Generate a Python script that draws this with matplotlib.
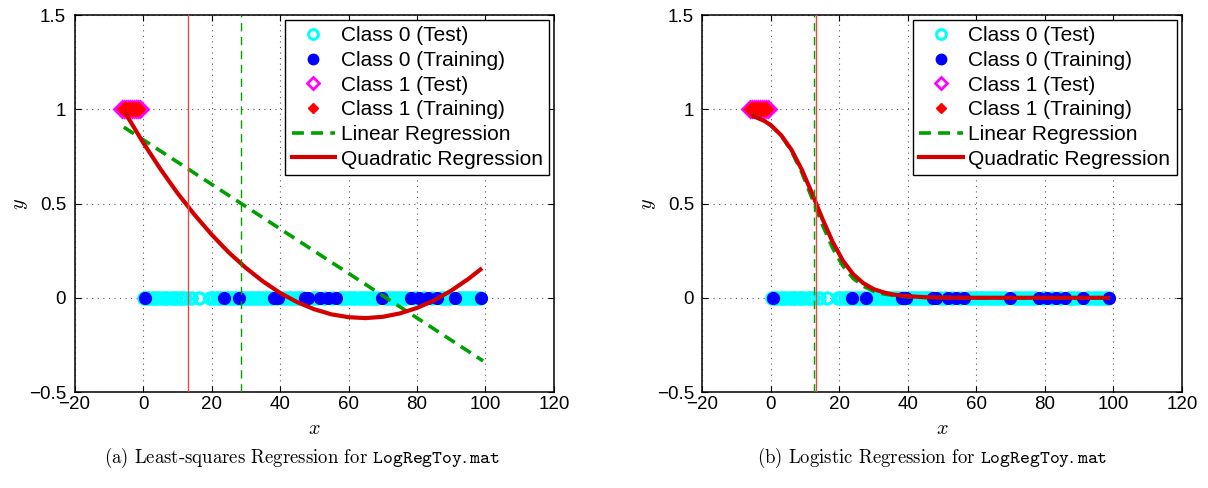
import matplotlib
matplotlib.use("Agg")
import matplotlib.pyplot as plt
from matplotlib.lines import Line2D

plt.rcParams["font.family"] = ["Liberation Sans", "DejaVu Sans"]
plt.rcParams["mathtext.fontset"] = "cm"

# data
x0_test = [0.2, 1.1, 1.8, 2.9, 3.6, 4.4, 5.5, 6.3, 7.0, 8.1, 8.9, 9.6, 10.7, 11.5, 12.4,
           14.1, 16.3, 19.6, 20.4, 21.5, 22.3, 23.0, 24.2, 25.0, 25.9, 26.8, 27.5, 28.6,
           29.4, 30.3, 31.2, 32.0, 33.1, 33.8, 34.7, 35.6, 36.4, 37.5, 38.9, 40.6, 41.4,
           42.5, 43.3, 44.0, 45.1, 45.9, 46.6, 49.5, 50.7, 52.9, 55.1, 57.6, 58.5, 59.3,
           60.4, 61.2, 62.0, 63.1, 63.9, 64.8, 65.7, 66.5, 67.4, 68.3, 71.0, 71.9, 72.8,
           73.6, 74.5, 75.4, 76.2, 77.1, 79.5, 82.0, 84.5, 86.9, 87.8, 88.6, 89.7, 92.2,
           93.0, 93.9, 94.8, 95.7, 96.5, 97.4, 98.3]
x0_train = [0.6, 23.6, 27.9, 38.3, 39.5, 47.3, 48.3, 51.8, 53.9, 56.4, 69.7, 78.3,
            80.7, 83.3, 85.8, 91.0, 98.8]
x1_test = [-6.2, -5.6, -5.0, -4.4, -3.8, -3.2, -2.6, -2.0, -1.4, -0.9]
x1_train = [-5.7, -4.9, -4.0, -3.2, -2.3, -1.4]

# (a) least squares
lsq_lin_x = [-5.6, 99.3]
lsq_lin_y = [0.905, -0.335]
lsq_quad_x = [-5.5, 0, 5, 10, 15, 20, 25, 30, 35, 40, 45, 50, 55, 60, 65, 70, 75, 80,
              85, 90, 95, 99]
lsq_quad_y = [0.99, 0.824, 0.685, 0.557, 0.441, 0.336, 0.241, 0.159, 0.087, 0.026,
              -0.023, -0.061, -0.088, -0.103, -0.108, -0.101, -0.083, -0.054, -0.014,
              0.038, 0.100, 0.157]
lsq_bound_lin = 28.6
lsq_bound_quad = 13.2

# (b) logistic
log_x = [-5.6, -2, 0, 3, 6, 9, 12, 15, 18, 21, 24, 27, 30, 33, 36, 40, 45, 50, 60, 70,
         80, 90, 99]
log_lin_y = [0.970, 0.941, 0.916, 0.861, 0.778, 0.665, 0.528, 0.388, 0.264, 0.169,
             0.103, 0.061, 0.035, 0.020, 0.012, 0.005, 0.002, 0.001, 0, 0, 0, 0, 0]
log_quad_y = [0.967, 0.939, 0.915, 0.862, 0.785, 0.680, 0.554, 0.420, 0.297, 0.197,
              0.125, 0.077, 0.046, 0.028, 0.016, 0.008, 0.003, 0.001, 0, 0, 0, 0, 0]
log_bound_lin = 12.6
log_bound_quad = 13.3

xticks = [-20, 0, 20, 40, 60, 80, 100, 120]
yticks = [-0.5, 0, 0.5, 1, 1.5]
yticklabels = ["\u22120.5", "0", "0.5", "1", "1.5"]
legend_labels = ["Class 0 (Test)", "Class 0 (Training)", "Class 1 (Test)",
                 "Class 1 (Training)", "Linear Regression", "Quadratic Regression"]
captions = [r"(a) Least-squares Regression for $\mathtt{LogRegToy.mat}$",
            r"(b) Logistic Regression for $\mathtt{LogRegToy.mat}$"]

GREEN = "#00a000"
DRED = "#d40000"
fs = 13.5

fig = plt.figure(figsize=(12.08, 4.88), dpi=100)
ax1 = fig.add_axes([0.0617, 0.1967, 0.3969, 0.7725])
ax2 = fig.add_axes([0.5815, 0.1967, 0.3969, 0.7725])


def draw(ax, lin_x, lin_y, quad_x, quad_y, b_lin, b_quad):
    ax.plot(x0_test, [0] * len(x0_test), "o", ls="none", mec="cyan", mfc="none",
            ms=8, mew=2.4, zorder=3)
    ax.plot(x0_train, [0] * len(x0_train), "o", ls="none", mec="blue", mfc="blue",
            ms=8.5, zorder=4)
    ax.plot(x1_test, [1] * len(x1_test), "D", ls="none", mec="magenta", mfc="none",
            ms=8, mew=2, zorder=3)
    ax.plot(x1_train, [1] * len(x1_train), "D", ls="none", mec="red", mfc="red",
            ms=7, zorder=4)
    g, = ax.plot(lin_x, lin_y, color=GREEN, lw=2.6, zorder=5)
    g.set_dashes((3.3, 2.0))
    ax.plot(quad_x, quad_y, color=DRED, lw=3, zorder=6, solid_capstyle="butt")
    v, = ax.plot([b_lin, b_lin], [-0.5, 1.5], color=GREEN, lw=1, zorder=7)
    v.set_dashes((6, 4))
    ax.plot([b_quad, b_quad], [-0.5, 1.5], color="#ee4444", lw=1, zorder=7)

    ax.set_xlim(-20, 120)
    ax.set_ylim(-0.5, 1.5)
    ax.set_xticks(xticks)
    ax.set_xticklabels([str(t).replace("-", "\u2212") for t in xticks])
    ax.set_yticks(yticks)
    ax.set_yticklabels(yticklabels)
    ax.tick_params(direction="in", top=True, right=True, length=4, width=0.8,
                   labelsize=fs)
    ax.tick_params(axis="y", pad=6)
    ax.tick_params(axis="x", pad=3)
    ax.grid(True, color="0.35", lw=0.8, ls=(0, (1, 4)))
    ax.set_axisbelow(True)
    for s in ax.spines.values():
        s.set_linewidth(1.1)
    ax.set_xlabel(r"$x$", fontsize=fs + 1, labelpad=4)
    ax.set_ylabel(r"$y$", fontsize=fs + 1, labelpad=-1)

    handles = [
        Line2D([], [], ls="none", marker="o", mec="cyan", mfc="none", ms=7, mew=2.2),
        Line2D([], [], ls="none", marker="o", mec="blue", mfc="blue", ms=7.5),
        Line2D([], [], ls="none", marker="D", mec="magenta", mfc="none", ms=6.5, mew=2),
        Line2D([], [], ls="none", marker="D", mec="red", mfc="red", ms=5.5),
        Line2D([], [], color=GREEN, lw=2.6, dashes=(3.3, 2.0)),
        Line2D([], [], color=DRED, lw=3),
    ]
    leg = ax.legend(handles, legend_labels, loc="upper right", fontsize=15,
                    frameon=True, fancybox=False, framealpha=1, edgecolor="black",
                    borderaxespad=0.25, borderpad=0.3, labelspacing=0.27,
                    handlelength=2.1, handletextpad=0.25)
    leg.get_frame().set_linewidth(1.0)
    leg.set_zorder(10)


draw(ax1, lsq_lin_x, lsq_lin_y, lsq_quad_x, lsq_quad_y, lsq_bound_lin, lsq_bound_quad)
draw(ax2, log_x, log_lin_y, log_x, log_quad_y, log_bound_lin, log_bound_quad)

fig.text(0.25, 0.062, captions[0], ha="center", va="center", fontsize=13.5,
         family="cmr10")
fig.text(0.7715, 0.062, captions[1], ha="center", va="center", fontsize=13.5,
         family="cmr10")

fig.savefig("out.png", dpi=100)
